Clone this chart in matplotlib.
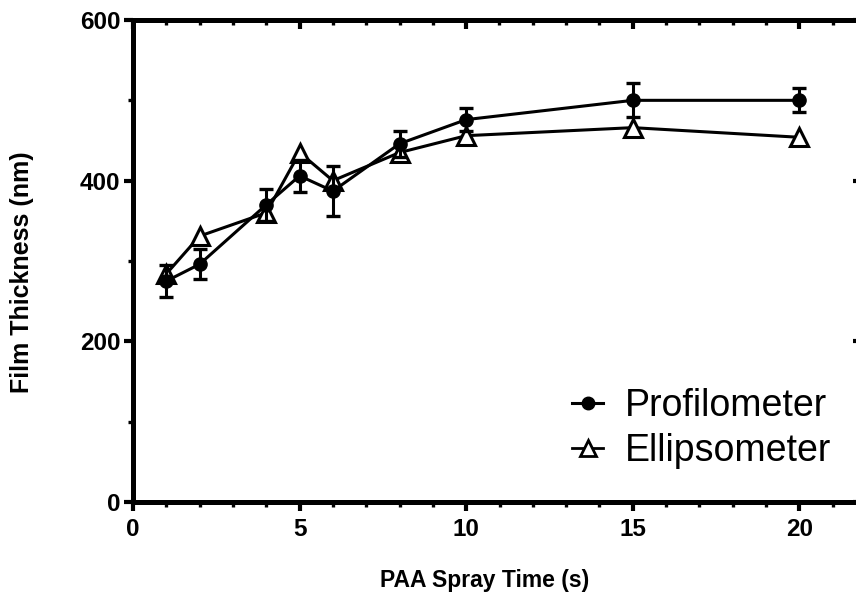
import matplotlib
matplotlib.use("Agg")
import matplotlib.pyplot as plt
from matplotlib.ticker import MultipleLocator
from matplotlib.lines import Line2D

# spray time (s)
spray_time = [1, 2, 4, 5, 6, 8, 10, 15, 20]

# profilometer thickness (nm) with error
profilometer = [275, 296, 370, 406, 387, 446, 476, 500, 500]
profilometer_err = [20, 19, 20, 20, 31, 16, 14, 21, 15]

# ellipsometer thickness (nm)
ellipsometer = [284, 331, 360, 435, 400, 435, 456, 466, 454]

x_ticks = [0, 5, 10, 15, 20]
y_ticks = [0, 200, 400, 600]

plt.rcParams["font.family"] = ["Liberation Sans", "DejaVu Sans"]

fig = plt.figure(figsize=(8.56, 5.98), dpi=100)
ax = fig.add_axes([133 / 856, 1 - 502 / 598, 733 / 856, 482 / 598])

lw_axis = 3.6
ax.plot(spray_time, ellipsometer, color="black", lw=2.2, marker="^",
        ms=13.5, mfc="white", mec="black", mew=2.2, zorder=2)
ax.errorbar(spray_time, profilometer, yerr=profilometer_err, color="black",
            lw=2.2, marker="o", ms=9.5, elinewidth=2.2, capsize=4.7,
            capthick=2.4, zorder=3)

ax.set_xlim(0, 22)
ax.set_ylim(0, 600)
ax.set_xticks(x_ticks)
ax.set_yticks(y_ticks)
ax.xaxis.set_minor_locator(MultipleLocator(1))
ax.yaxis.set_minor_locator(MultipleLocator(100))

for side in ax.spines.values():
    side.set_linewidth(lw_axis)

ax.tick_params(axis="both", which="major", direction="out", length=6.5,
               width=3, labelsize=17.5, top=False, right=False)
ax.tick_params(axis="both", which="minor", direction="out", length=3.5,
               width=2.4, top=False, right=False)
ax.tick_params(axis="x", which="major", pad=5)
ax.tick_params(axis="y", which="major", pad=2.5)
for lab in ax.get_xticklabels() + ax.get_yticklabels():
    lab.set_fontweight("bold")

# inward ticks on the top and right edges
top = ax.secondary_xaxis("top")
top.set_xticks(x_ticks)
top.xaxis.set_minor_locator(MultipleLocator(1))
top.tick_params(which="major", direction="in", length=6.5, width=3,
                labeltop=False)
top.tick_params(which="minor", direction="in", length=3.5, width=2.4)
top.spines["top"].set_linewidth(lw_axis)

right = ax.secondary_yaxis("right")
right.set_yticks(y_ticks)
right.yaxis.set_minor_locator(MultipleLocator(100))
right.tick_params(which="major", direction="in", length=9.5, width=3,
                  labelright=False)
right.tick_params(which="minor", direction="in", length=3.5, width=2.4)
right.spines["right"].set_linewidth(lw_axis)

fig.text(485 / 856, 1 - 580 / 598, "PAA Spray Time (s)", fontsize=16.5,
         fontweight="bold", ha="center", va="center")
fig.text(22 / 856, 1 - 272 / 598, "Film Thickness (nm)", fontsize=18,
         fontweight="bold", ha="center", va="center", rotation=90)

handles = [
    Line2D([], [], color="black", lw=2.2, marker="o", ms=9),
    Line2D([], [], color="black", lw=2.0, marker="^", ms=11, mfc="white",
           mew=2.0),
]
ax.legend(handles, ["Profilometer", "Ellipsometer"], loc="lower left",
          bbox_to_anchor=(572 / 856, 1 - 469 / 598),
          bbox_transform=fig.transFigure, frameon=False, fontsize=27,
          handlelength=0.83, handletextpad=0.59, labelspacing=0.25,
          borderpad=0, borderaxespad=0)

fig.savefig("out.png", dpi=100)
